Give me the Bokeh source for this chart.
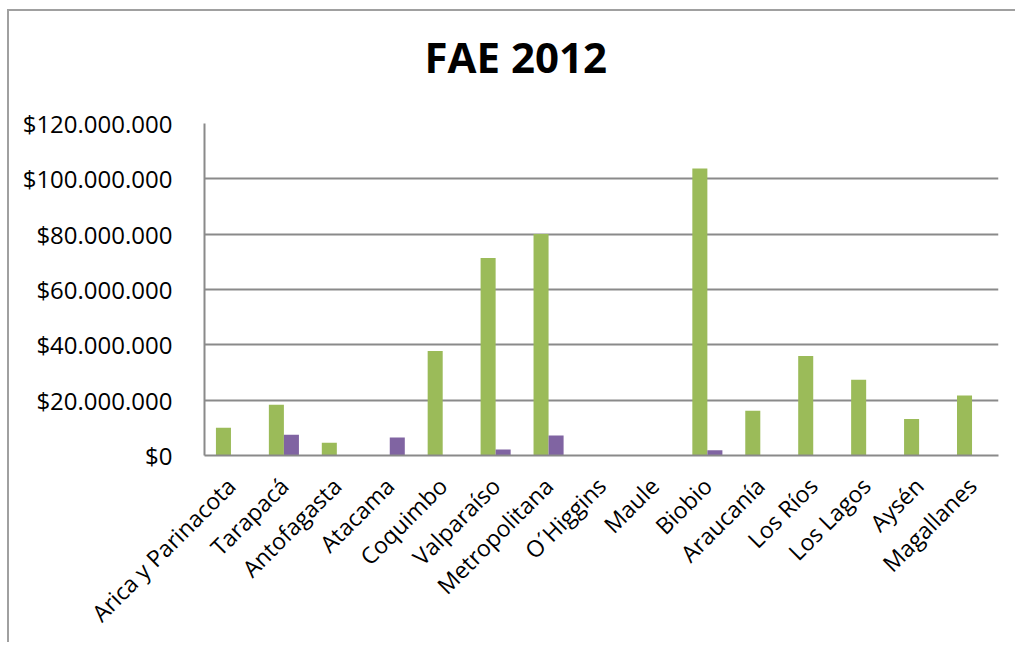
from bokeh.plotting import figure
from bokeh.models import ColumnDataSource, FixedTicker, CustomJSTickFormatter, Title
from bokeh.transform import dodge
from bokeh.embed import file_html
from bokeh.resources import INLINE
import math

regions = ["Arica y Parinacota", "Tarapacá", "Antofagasta", "Atacama", "Coquimbo",
           "Valparaíso", "Metropolitana", "O´Higgins", "Maule", "Biobio",
           "Araucanía", "Los Ríos", "Los Lagos", "Aysén", "Magallanes"]
serie_verde = [10.0e6, 18.3e6, 4.6e6, 0, 37.8e6, 71.4e6, 80.1e6, 0, 0, 103.7e6,
               16.2e6, 36.0e6, 27.4e6, 13.2e6, 21.7e6]
serie_morada = [0, 7.5e6, 0, 6.5e6, 0, 2.2e6, 7.2e6, 0, 0, 1.9e6,
                0, 0, 0, 0, 0]
y_ticks = [0, 20e6, 40e6, 60e6, 80e6, 100e6, 120e6]
titulo = "FAE 2012"

source = ColumnDataSource(dict(region=regions, verde=serie_verde, morada=serie_morada))

p = figure(x_range=regions, y_range=(0, 120e6), output_backend="svg",
           toolbar_location=None, frame_width=794, frame_height=332,
           min_border_left=195, min_border_right=17, min_border_top=112,
           min_border_bottom=184, background_fill_color="white",
           border_fill_color="white", outline_line_color=None)
p.styles = {"margin-left": "7px", "margin-top": "9px",
            "border-left": "2px solid #a0a0a0", "border-top": "2px solid #a0a0a0"}

bw = 0.284
p.vbar(x=dodge("region", -bw / 2, range=p.x_range), top="verde", width=bw,
       source=source, fill_color="#9BBB59", line_color=None)
p.vbar(x=dodge("region", bw / 2, range=p.x_range), top="morada", width=bw,
       source=source, fill_color="#8064A2", line_color=None)

# spacer between frame and title (closest to frame), then the title itself
spacer = Title(text=" ", standoff=36, text_font_size="1px", text_color="white")
p.add_layout(spacer, "above")
t = Title(text=titulo, align="left", offset=220, standoff=0, text_font="Open Sans",
          text_font_size="42px", text_font_style="bold", text_color="black")
p.add_layout(t, "above")

p.yaxis.ticker = FixedTicker(ticks=y_ticks)
p.yaxis.formatter = CustomJSTickFormatter(code="""
return '$' + Math.round(tick).toString().replace(/\\B(?=(\\d{3})+(?!\\d))/g, '.');
""")
p.yaxis.major_tick_line_color = None
p.yaxis.minor_tick_line_color = None
p.yaxis.major_label_standoff = 26
p.yaxis.major_label_text_font = "Open Sans"
p.yaxis.major_label_text_font_size = "24px"
p.yaxis.major_label_text_color = "black"
p.yaxis.axis_line_color = "#8a8a8a"
p.yaxis.axis_line_width = 2

p.xaxis.major_label_orientation = math.pi / 4
p.xaxis.major_tick_line_color = None
p.xaxis.minor_tick_line_color = None
p.xaxis.major_label_standoff = 20
p.xaxis.major_label_text_font = "Open Sans"
p.xaxis.major_label_text_font_size = "23px"
p.xaxis.major_label_text_color = "black"
p.xaxis.axis_line_color = "#8a8a8a"
p.xaxis.axis_line_width = 2

p.xgrid.grid_line_color = None
p.ygrid.grid_line_color = "#8a8a8a"
p.ygrid.grid_line_width = 2

open("out.html", "w").write(file_html(p, INLINE))
